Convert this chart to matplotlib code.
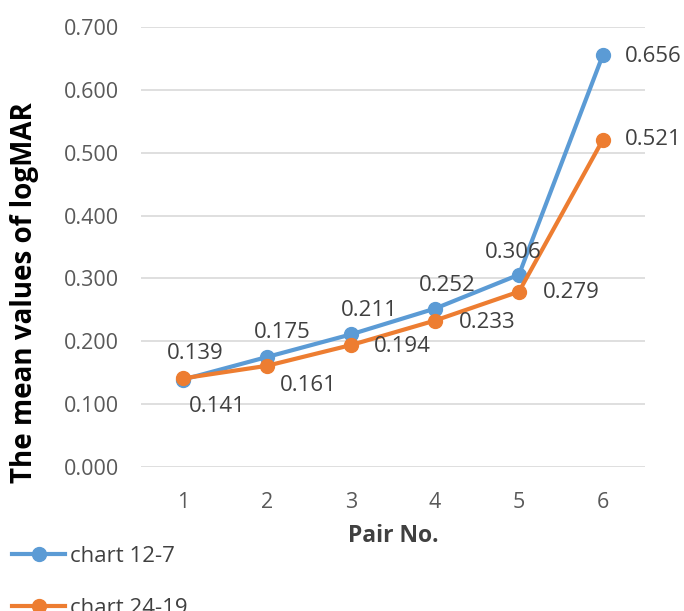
import matplotlib.pyplot as plt

plt.rcParams['font.family'] = ['Open Sans', 'DejaVu Sans']

pairs = [1, 2, 3, 4, 5, 6]
chart_12_7 = [0.139, 0.175, 0.211, 0.252, 0.306, 0.656]
chart_24_19 = [0.141, 0.161, 0.194, 0.233, 0.279, 0.521]
y_ticks = [0.0, 0.1, 0.2, 0.3, 0.4, 0.5, 0.6, 0.7]

blue = '#5B9BD5'
orange = '#ED7D31'

# label offsets in pixels (placement only)
blue_off = [(12, 26), (15, 25), (18, 24), (12, 23), (-6, 22), (50, -2)]
orange_off = [(34, -28), (41, -20), (51, -1), (52, -2), (52, -1), (50, 0)]

fig = plt.figure(figsize=(6.84, 6.11), dpi=100)
ax = fig.add_axes([141 / 684, 1 - 467 / 611, (645 - 141) / 684, (467 - 27) / 611])

ax.plot(pairs, chart_12_7, color=blue, lw=3, marker='o', ms=10, label='chart 12-7')
ax.plot(pairs, chart_24_19, color=orange, lw=3, marker='o', ms=10, label='chart 24-19')

for x, y, off in zip(pairs, chart_12_7, blue_off):
    ax.annotate(f'{y:.3f}', (x, y), xytext=off, textcoords='offset pixels',
                ha='center', va='center', fontsize=16, color='#404040')
for x, y, off in zip(pairs, chart_24_19, orange_off):
    ax.annotate(f'{y:.3f}', (x, y), xytext=off, textcoords='offset pixels',
                ha='center', va='center', fontsize=16, color='#404040')

ax.set_xlim(0.5, 6.5)
ax.set_ylim(0, 0.7)
ax.set_xticks(pairs)
ax.set_yticks(y_ticks)
ax.set_yticklabels([f'{v:.3f}' for v in y_ticks])
ax.tick_params(length=0, labelsize=15.5, labelcolor='#595959')
ax.tick_params(axis='y', pad=16)
ax.tick_params(axis='x', pad=18)
ax.grid(axis='y', color='#D9D9D9', lw=1.2)
ax.set_axisbelow(True)
for s in ax.spines.values():
    s.set_visible(False)

ax.set_xlabel('Pair No.', fontsize=16.5, fontweight='bold', color='#404040', labelpad=8)
fig.text(25 / 684, 1 - 293 / 611, 'The mean values of logMAR', rotation=90,
         ha='center', va='center', fontsize=20, fontweight='bold', color='black')

fig.legend(loc='upper left', bbox_to_anchor=(12 / 684, 1 - 546 / 611), frameon=False,
           fontsize=16, labelcolor='#404040', handlelength=2.4, handletextpad=0.2,
           labelspacing=1.4, borderaxespad=0, borderpad=0)

fig.savefig('out.png', dpi=100)
